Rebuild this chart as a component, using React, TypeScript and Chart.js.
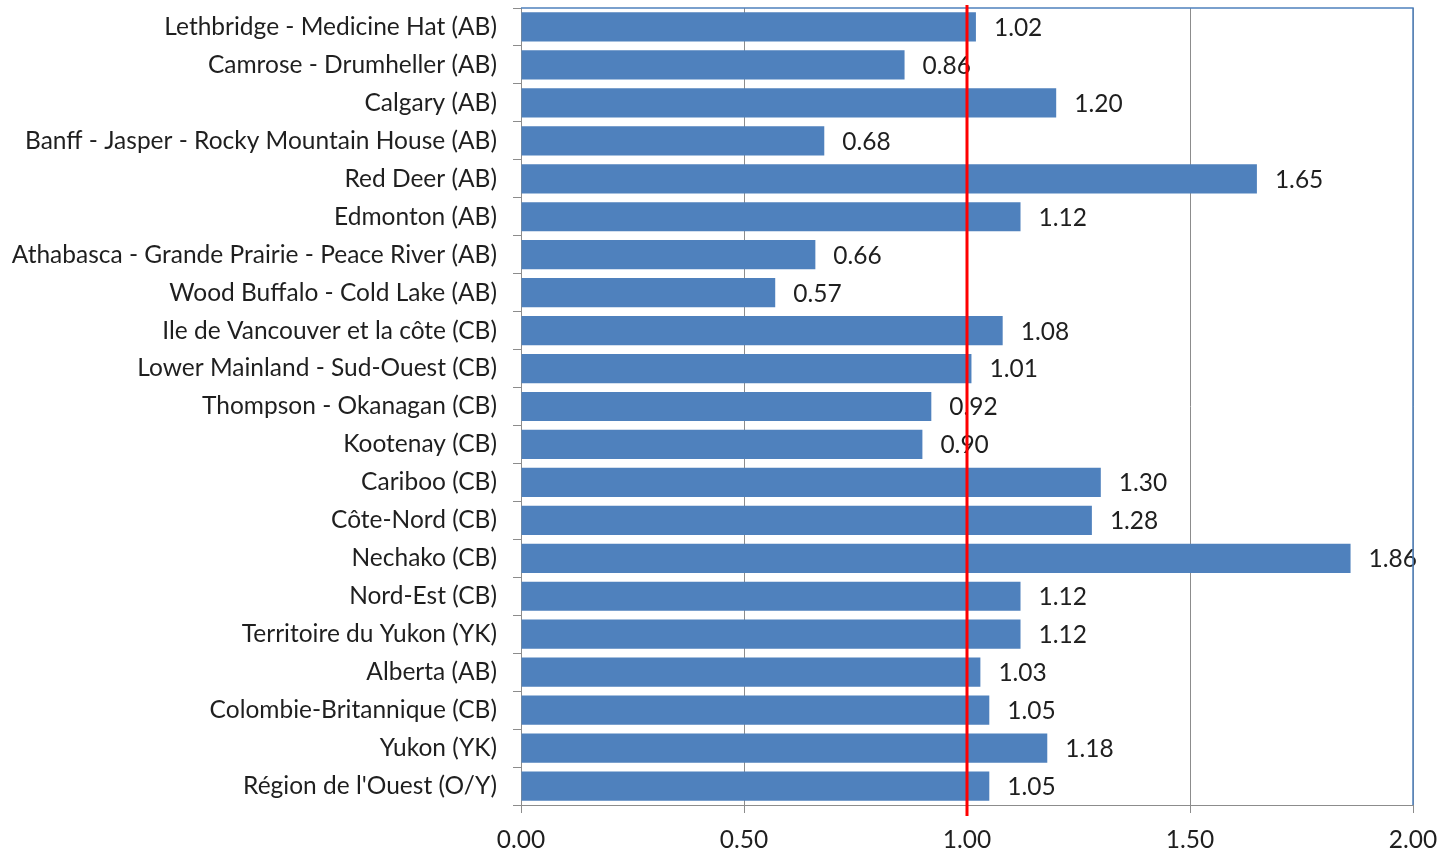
import React, { useEffect, useRef } from "react";
import { Chart, registerables } from "chart.js";

Chart.register(...registerables);

const categories = [
  "Lethbridge - Medicine Hat (AB)",
  "Camrose - Drumheller (AB)",
  "Calgary (AB)",
  "Banff - Jasper - Rocky Mountain House (AB)",
  "Red Deer (AB)",
  "Edmonton (AB)",
  "Athabasca - Grande Prairie - Peace River (AB)",
  "Wood Buffalo - Cold Lake (AB)",
  "Ile de Vancouver et la côte (CB)",
  "Lower Mainland - Sud-Ouest (CB)",
  "Thompson - Okanagan (CB)",
  "Kootenay (CB)",
  "Cariboo (CB)",
  "Côte-Nord (CB)",
  "Nechako (CB)",
  "Nord-Est (CB)",
  "Territoire du Yukon (YK)",
  "Alberta (AB)",
  "Colombie-Britannique (CB)",
  "Yukon (YK)",
  "Région de l'Ouest (O/Y)",
];

const values = [
  1.02, 0.86, 1.2, 0.68, 1.65, 1.12, 0.66, 0.57, 1.08, 1.01, 0.92, 0.9, 1.3,
  1.28, 1.86, 1.12, 1.12, 1.03, 1.05, 1.18, 1.05,
];

const referenceLine = [1.0];
const xTicks = [0, 0.5, 1.0, 1.5, 2.0];

const FONT = "Lato";
const FONT_SIZE = 24.5;
const TEXT = "#1f1f1f";
const GRAY = "#8c8c8c";
const BAR = "#4F81BD";

export default function App() {
  const ref = useRef<HTMLCanvasElement | null>(null);

  useEffect(() => {
    document.body.style.margin = "0";
    const canvas = ref.current!;

    const labelPlugin = {
      id: "valueLabels",
      afterDatasetsDraw(chart: any) {
        const ctx = chart.ctx;
        const meta = chart.getDatasetMeta(0);
        ctx.save();
        ctx.font = `${FONT_SIZE}px ${FONT}`;
        ctx.fillStyle = TEXT;
        ctx.textAlign = "left";
        ctx.textBaseline = "middle";
        meta.data.forEach((el: any, i: number) => {
          ctx.fillText(values[i].toFixed(2), el.x + 18, el.y + 1);
        });
        ctx.restore();
      },
    };

    const framePlugin = {
      id: "frameAndRef",
      afterDraw(chart: any) {
        const ctx = chart.ctx;
        const a = chart.chartArea;
        const xs = chart.scales.x;
        ctx.save();
        ctx.strokeStyle = BAR;
        ctx.lineWidth = 1.5;
        ctx.beginPath();
        ctx.moveTo(a.left, a.top);
        ctx.lineTo(a.right, a.top);
        ctx.lineTo(a.right, a.bottom);
        ctx.stroke();
        referenceLine.forEach((v) => {
          const px = xs.getPixelForValue(v);
          ctx.strokeStyle = "#FF0000";
          ctx.lineWidth = 3;
          ctx.beginPath();
          ctx.moveTo(px, a.top - 3);
          ctx.lineTo(px, a.bottom + 11);
          ctx.stroke();
        });
        ctx.restore();
      },
    };

    const chart = new Chart(canvas, {
      type: "bar",
      data: {
        labels: categories,
        datasets: [
          {
            data: values,
            backgroundColor: BAR,
            borderWidth: 0,
            categoryPercentage: 1,
            barPercentage: 0.77,
          },
        ],
      },
      options: {
        indexAxis: "y",
        responsive: false,
        animation: false,
        layout: { padding: { top: 8, right: 24, left: 0, bottom: 0 } },
        plugins: {
          legend: { display: false },
          tooltip: { enabled: false },
        },
        scales: {
          x: {
            min: 0,
            max: 2,
            afterBuildTicks: (scale: any) => {
              scale.ticks = xTicks.map((v) => ({ value: v }));
            },
            afterFit: (scale: any) => {
              scale.height = 47;
              scale.paddingLeft = 0;
              scale.paddingRight = 0;
            },
            ticks: {
              font: { family: FONT, size: FONT_SIZE },
              color: TEXT,
              padding: 12,
              callback: (v: any) => Number(v).toFixed(2),
            },
            grid: {
              color: GRAY,
              lineWidth: 1,
              tickLength: 8,
              drawOnChartArea: true,
            },
            border: { display: true, color: GRAY, width: 1 },
          },
          y: {
            type: "category",
            offset: true,
            afterFit: (scale: any) => {
              scale.width = 521;
              scale.paddingTop = 0;
              scale.paddingBottom = 0;
            },
            ticks: {
              font: { family: FONT, size: FONT_SIZE },
              color: TEXT,
              padding: 16,
            },
            grid: {
              offset: true,
              drawOnChartArea: false,
              color: GRAY,
              tickLength: 8,
            },
            border: { display: true, color: GRAY, width: 1 },
          },
        },
      },
      plugins: [labelPlugin, framePlugin],
    });
    return () => chart.destroy();
  }, []);

  return (
    <div style={{ position: "absolute", left: 0, top: 0, width: 1437, height: 852, background: "#fff" }}>
      <canvas ref={ref} width={1437} height={852} />
    </div>
  );
}
